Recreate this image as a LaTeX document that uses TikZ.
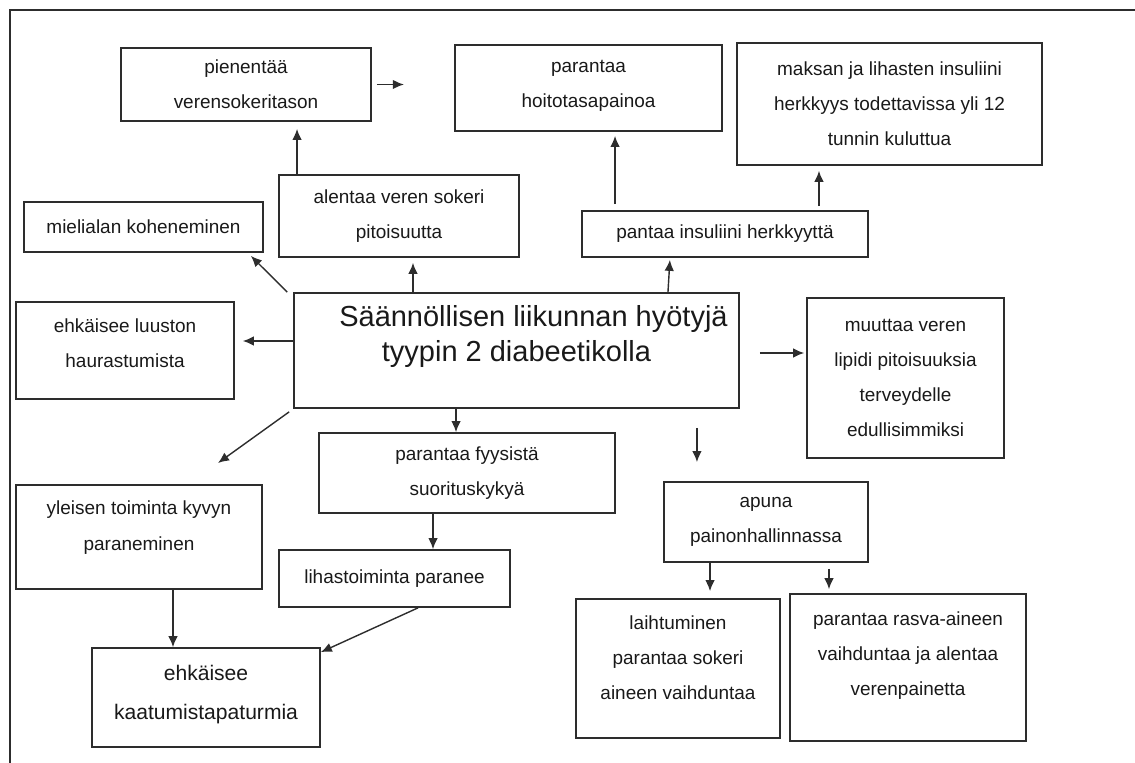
\documentclass[tikz,border=0pt]{standalone}
\usepackage{fontspec}
\setmainfont{Liberation Sans}
\usepackage{tikz}
\usetikzlibrary{positioning, calc, arrows.meta}
\definecolor{boxLine}{RGB}{45,45,45}
\definecolor{boxText}{RGB}{25,25,25}

\begin{document}
\begin{tikzpicture}[
    x=0.02cm, y=-0.02cm,
    box/.style={rectangle, draw=boxLine, line width=1pt, align=center, text=boxText, inner sep=2pt, font=\fontsize{10.8}{20}\selectfont},
    titlebox/.style={box, font=\fontsize{16.5}{19.5}\selectfont},
    bigbox/.style={box, font=\fontsize{12}{22}\selectfont},
    arrow/.style={->, >={Latex[length=2.2mm,width=1.9mm]}, line width=0.8pt, draw=boxLine}
]
\useasboundingbox (0,0) rectangle (1135,763);
\draw[line width=1pt, boxLine] (1135,10) -- (10,10) -- (10,763);

% Main topic
\node[titlebox, minimum width=8.9cm, minimum height=2.3cm] (main) at (516.5,350.5) {\hspace*{0.68cm}S\"a\"ann\"ollisen liikunnan hy\"otyj\"a\\tyypin 2 diabeetikolla\\};

% Upper row
\node[box, minimum width=5cm, minimum height=1.46cm] (pien) at (246,84.5) {pienent\"a\"a\\verensokeritason};
\coordinate[right=0.64cm of pien.east] (pienTip);
\node[box, minimum width=5.34cm, minimum height=1.72cm] (hoito) at (588.5,88) {parantaa\\hoitotasapainoa\\[-15pt]};
\node[box, minimum width=6.1cm, minimum height=2.44cm] (maksa) at (889.5,104) {maksan ja lihasten insuliini\\herkkyys todettavissa yli 12\\tunnin kuluttua};
\node[box, minimum width=4.8cm, minimum height=1.64cm] (alentaa) at (399,216) {alentaa veren sokeri\\pitoisuutta};
\node[box, minimum width=4.78cm, minimum height=1cm] (mieli) at (143.5,227) {mielialan koheneminen};
\node[box, minimum width=5.72cm, minimum height=0.92cm] (insul) at (725,234) {pantaa insuliini herkkyytt\"a};

% Left and right of the main topic
\node[box, minimum width=4.36cm, minimum height=1.94cm] (luusto) at (125,350.5) {ehk\"aisee luuston\\haurastumista\\[-12pt]};
\node[box, minimum width=3.94cm, minimum height=3.2cm] (lipidi) at (905.5,378) {muuttaa veren\\lipidi pitoisuuksia\\terveydelle\\edullisimmiksi};

% Lower part
\node[box, minimum width=5.92cm, minimum height=1.6cm] (fyys) at (467,473) {parantaa fyysist\"a\\suorituskyky\"a};
\node[box, minimum width=4.08cm, minimum height=1.6cm] (paino) at (766,522) {apuna\\painonhallinnassa};
\node[box, minimum width=4.92cm, minimum height=2.08cm] (yleinen) at (139,537) {yleisen toiminta kyvyn\\paraneminen\\[-7pt]};
\coordinate (yleinenTip) at (218,463);
\node[box, minimum width=4.62cm, minimum height=1.14cm] (lihas) at (394.5,578.5) {lihastoiminta paranee};
\node[bigbox, minimum width=4.56cm, minimum height=1.98cm] (kaatu) at (206,697.5) {ehk\"aisee\\kaatumistapaturmia\\[-16pt]};
\node[box, minimum width=4.08cm, minimum height=2.78cm] (laiht) at (678,668.5) {laihtuminen\\parantaa sokeri\\aineen vaihduntaa\\[-8pt]};
\node[box, minimum width=4.72cm, minimum height=2.94cm] (rasva) at (908,667.5) {parantaa rasva-aineen\\vaihduntaa ja alentaa\\verenpainetta\\[-4pt]};

% Arrows
\draw[arrow, shorten <=0.1cm] (pien.east) -- (pienTip);
\draw[arrow, shorten >=0.14cm] ([xshift=-2.04cm]alentaa.north) -- ([xshift=-2.04cm]alentaa.north |- pien.south);
\draw[arrow] ([xshift=-0.12cm]main.north west) -- ([shift={(-0.26cm,-0.06cm)}]mieli.south east);
\draw[arrow, shorten >=0.1cm] ([xshift=0.28cm]alentaa.south |- main.north) -- ([xshift=0.28cm]alentaa.south);
\draw[arrow, shorten >=0.04cm] ([xshift=3.03cm]main.north) -- ([xshift=-1.1cm]insul.south);
\draw[arrow, shorten <=0.12cm, shorten >=0.08cm] ([xshift=-2.2cm]insul.north) -- ([xshift=-2.2cm]insul.north |- hoito.south);
\draw[arrow, shorten <=0.08cm, shorten >=0.1cm] ([xshift=1.88cm]insul.north) -- ([xshift=1.88cm]insul.north |- maksa.south);
\draw[arrow, shorten >=0.16cm] ([yshift=0.19cm]main.west) -- ([yshift=0.19cm]main.west -| luusto.east);
\draw[arrow, shorten <=0.4cm, shorten >=0.04cm] ([yshift=-0.05cm]main.east) -- ([yshift=-0.05cm]main.east -| lipidi.west);
\draw[arrow] ([shift={(-0.08cm,-0.06cm)}]main.south west) -- (yleinenTip);
\draw[arrow] ([xshift=-1.21cm]main.south) -- ([xshift=-1.21cm]main.south |- fyys.north);
\draw[arrow, shorten <=0.38cm, shorten >=0.38cm] ([xshift=3.61cm]main.south) -- ([xshift=3.61cm]main.south |- paino.north);
\draw[arrow] ([xshift=-0.68cm]fyys.south) -- ([xshift=-0.68cm]fyys.south |- lihas.north);
\draw[arrow] ([xshift=0.68cm]yleinen.south) -- ([xshift=0.68cm]yleinen.south |- kaatu.north);
\draw[arrow] ([xshift=0.47cm]lihas.south) -- ([yshift=-0.1cm]kaatu.north east);
\draw[arrow, shorten >=0.14cm] ([xshift=-1.12cm]paino.south) -- ([xshift=-1.12cm]paino.south |- laiht.north);
\draw[arrow, shorten <=0.12cm, shorten >=0.08cm] ([xshift=1.26cm]paino.south) -- ([xshift=1.26cm]paino.south |- rasva.north);

\end{tikzpicture}
\end{document}
